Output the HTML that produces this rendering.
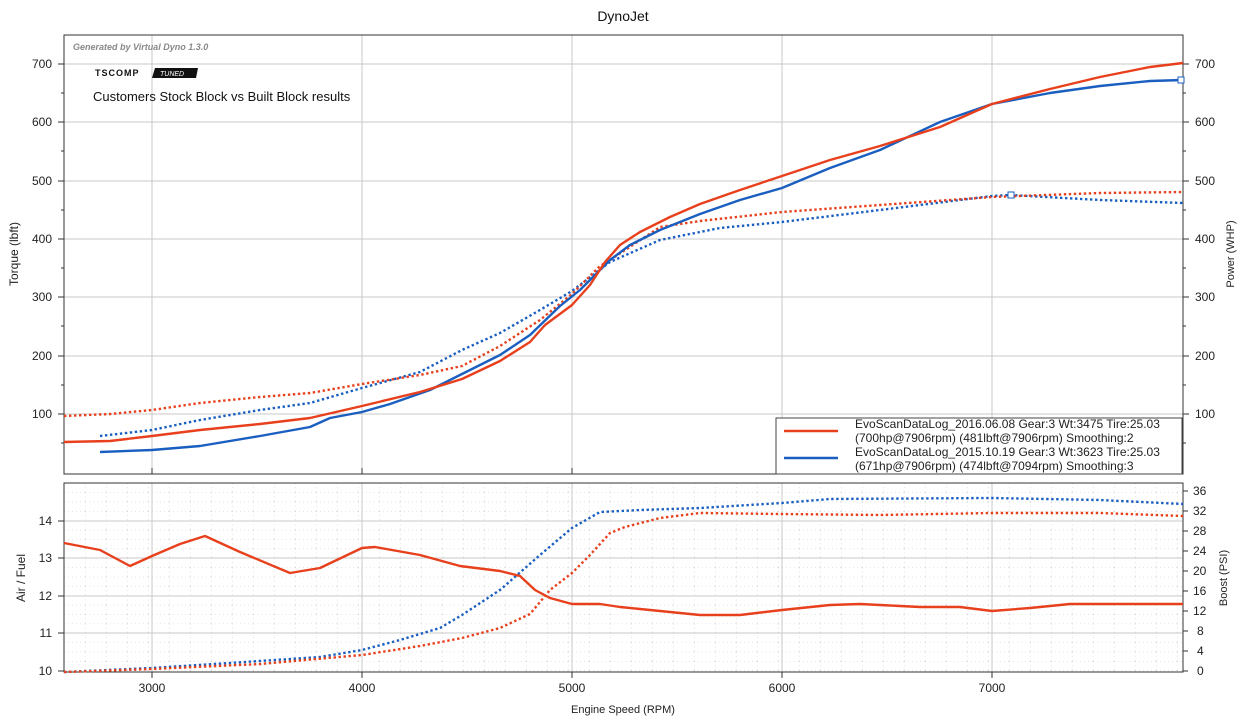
<!DOCTYPE html>
<html><head><meta charset="utf-8"><style>
html,body{margin:0;padding:0;background:#fff;}
svg{display:block;font-family:"Liberation Sans",Arial,sans-serif;}
</style></head><body>
<svg width="1247" height="724" viewBox="0 0 1247 724" xmlns="http://www.w3.org/2000/svg">
<defs>
<pattern id="minor" x="64" y="483" width="21" height="9.375" patternUnits="userSpaceOnUse">
<line x1="0" y1="0" x2="21" y2="0" stroke="#ccc" stroke-width="1" stroke-dasharray="1,3"/>
<line x1="0" y1="0" x2="0" y2="9.375" stroke="#ccc" stroke-width="1" stroke-dasharray="1,3"/>
</pattern>
</defs>
<text x="623" y="21" font-size="14" text-anchor="middle" fill="#111">DynoJet</text>
<g stroke="#c8c8c8" stroke-width="1">
<line x1="64" y1="64" x2="1183" y2="64"/><line x1="64" y1="122" x2="1183" y2="122"/>
<line x1="64" y1="181" x2="1183" y2="181"/><line x1="64" y1="239" x2="1183" y2="239"/>
<line x1="64" y1="297" x2="1183" y2="297"/><line x1="64" y1="356" x2="1183" y2="356"/>
<line x1="64" y1="414" x2="1183" y2="414"/>
<line x1="152" y1="35" x2="152" y2="474"/><line x1="362" y1="35" x2="362" y2="474"/>
<line x1="572" y1="35" x2="572" y2="474"/><line x1="782" y1="35" x2="782" y2="474"/>
<line x1="992" y1="35" x2="992" y2="474"/>
</g>
<rect x="64" y="35" width="1119" height="439" fill="none" stroke="#333" stroke-width="1"/>
<rect x="64" y="483" width="1119" height="189" fill="url(#minor)"/>
<g stroke="#c8c8c8" stroke-width="1">
<line x1="64" y1="521" x2="1183" y2="521"/><line x1="64" y1="558" x2="1183" y2="558"/>
<line x1="64" y1="596" x2="1183" y2="596"/><line x1="64" y1="633" x2="1183" y2="633"/>
<line x1="152" y1="483" x2="152" y2="672"/><line x1="362" y1="483" x2="362" y2="672"/>
<line x1="572" y1="483" x2="572" y2="672"/><line x1="782" y1="483" x2="782" y2="672"/>
<line x1="992" y1="483" x2="992" y2="672"/>
</g>
<rect x="64" y="483" width="1119" height="189" fill="none" stroke="#333" stroke-width="1"/>
<!-- tick marks -->
<g stroke="#333" stroke-width="1">
<path d="M58,64H64M58,122H64M58,181H64M58,239H64M58,297H64M58,356H64M58,414H64M61,93H64M61,151H64M61,210H64M61,268H64M61,326H64M61,385H64M61,443H64"/>
<path d="M1183,64H1189M1183,122H1189M1183,181H1189M1183,239H1189M1183,297H1189M1183,356H1189M1183,414H1189M1183,93H1186M1183,151H1186M1183,210H1186M1183,268H1186M1183,326H1186M1183,385H1186M1183,443H1186"/>
<path d="M58,521H64M58,558H64M58,596H64M58,633H64M58,671H64"/>
<path d="M1183,491H1188M1183,511H1188M1183,531H1188M1183,551H1188M1183,571H1188M1183,591H1188M1183,611H1188M1183,631H1188M1183,651H1188M1183,671H1188"/>
<path d="M152,672V678M362,672V678M572,672V678M782,672V678M992,672V678M152,474V468M362,474V468M572,474V468M782,474V468M992,474V468"/>
</g>
<g font-size="12" fill="#222" text-anchor="end">
<text x="52" y="68">700</text><text x="52" y="126">600</text><text x="52" y="185">500</text>
<text x="52" y="243">400</text><text x="52" y="301">300</text><text x="52" y="360">200</text>
<text x="52" y="418">100</text>
<text x="52" y="525">14</text><text x="52" y="562">13</text><text x="52" y="600">12</text>
<text x="52" y="637">11</text><text x="52" y="675">10</text>
</g>
<g font-size="12" fill="#222" text-anchor="start">
<text x="1195" y="68">700</text><text x="1195" y="126">600</text><text x="1195" y="185">500</text>
<text x="1195" y="243">400</text><text x="1195" y="301">300</text><text x="1195" y="360">200</text>
<text x="1195" y="418">100</text>
<text x="1193" y="495">36</text><text x="1193" y="515">32</text><text x="1193" y="535">28</text>
<text x="1193" y="555">24</text><text x="1193" y="575">20</text><text x="1193" y="595">16</text>
<text x="1193" y="615">12</text><text x="1197" y="635">8</text><text x="1197" y="655">4</text>
<text x="1197" y="675">0</text>
</g>
<g font-size="12" fill="#222" text-anchor="middle">
<text x="152" y="692">3000</text><text x="362" y="692">4000</text><text x="572" y="692">5000</text>
<text x="782" y="692">6000</text><text x="992" y="692">7000</text>
<text x="623" y="713" font-size="11">Engine Speed (RPM)</text>
</g>
<text transform="translate(18,254) rotate(-90)" font-size="12" text-anchor="middle" fill="#222">Torque (lbft)</text>
<text transform="translate(25,578) rotate(-90)" font-size="12" text-anchor="middle" fill="#222">Air / Fuel</text>
<text transform="translate(1234,254) rotate(-90)" font-size="11" text-anchor="middle" fill="#222">Power (WHP)</text>
<text transform="translate(1227,578) rotate(-90)" font-size="11" text-anchor="middle" fill="#222">Boost (PSI)</text>
<text x="73" y="50" font-size="9" font-style="italic" font-weight="bold" fill="#888">Generated by Virtual Dyno 1.3.0</text>
<text x="95" y="76" font-size="9" font-weight="bold" fill="#111" letter-spacing="1">TSCOMP</text>
<polygon points="155,68 198,68 196,78 152,78" fill="#111"/>
<text x="160" y="76" font-size="7" font-style="italic" fill="#fff">TUNED</text>
<text x="93" y="101" font-size="13" fill="#111">Customers Stock Block vs Built Block results</text>
<g fill="none" stroke-width="2.4" stroke-linejoin="round">
<polyline stroke="#1a5fc0" stroke-dasharray="2.4,2.6" points="100,436 152,430 200,420 260,410 310,403 362,388 420,372 462,350 500,333 540,310 572,291 610,262 660,240 720,228 782,222 880,210 992,196 1010,195 1100,200 1183,203"/>
<polyline stroke="#e8401c" stroke-dasharray="2.4,2.6" points="64,416 110,414 152,410 200,403 260,397 310,393 362,384 420,375 462,366 500,346 540,320 572,294 600,266 610,260 660,227 700,221 782,212 880,205 992,197 1100,193 1183,192"/>
<polyline stroke="#1a5fc0" points="100,452 152,450 200,446 260,436 310,427 330,418 362,412 390,404 430,390 462,374 500,355 530,335 560,306 580,290 600,270 610,260 630,245 660,230 700,214 740,200 782,188 830,168 880,150 940,122 992,104 1050,93 1100,86 1150,81 1183,80"/>
<polyline stroke="#e8401c" points="64,442 110,441 152,436 200,430 260,424 310,418 362,406 420,392 462,379 500,361 530,342 545,325 572,305 590,285 605,262 620,245 640,232 670,217 700,204 740,190 782,176 830,160 880,146 940,127 992,104 1050,89 1100,77 1150,67 1183,63"/>
</g>
<rect x="1008" y="192" width="6" height="6" fill="#fff" stroke="#1a5fc0" stroke-width="1"/>
<rect x="1178" y="77" width="6" height="6" fill="#fff" stroke="#1a5fc0" stroke-width="1"/>
<rect x="776" y="418" width="406" height="56" fill="#fff" stroke="#444" stroke-width="1"/>
<line x1="784" y1="431" x2="838" y2="431" stroke="#e8401c" stroke-width="2.4"/>
<line x1="784" y1="458" x2="838" y2="458" stroke="#1a5fc0" stroke-width="2.4"/>
<g font-size="12" fill="#222">
<text x="855" y="428">EvoScanDataLog_2016.06.08 Gear:3 Wt:3475 Tire:25.03</text>
<text x="855" y="442">(700hp@7906rpm) (481lbft@7906rpm) Smoothing:2</text>
<text x="855" y="456">EvoScanDataLog_2015.10.19 Gear:3 Wt:3623 Tire:25.03</text>
<text x="855" y="470">(671hp@7906rpm) (474lbft@7094rpm) Smoothing:3</text>
</g>
<g fill="none" stroke-width="2.4" stroke-linejoin="round">
<polyline stroke="#1a5fc0" stroke-dasharray="2.4,2.6" points="64,672 152,668 260,661 320,657 362,650 400,640 440,628 462,615 500,590 540,555 572,528 600,512 640,510 700,508 782,503 830,499 992,498 1100,500 1183,504"/>
<polyline stroke="#e8401c" stroke-dasharray="2.4,2.6" points="64,672 152,669 260,664 362,655 420,646 462,638 500,628 530,614 550,590 572,573 590,555 610,533 625,527 660,518 700,513 782,514 880,515 992,513 1100,513 1183,516"/>
<polyline stroke="#e8401c" points="64,543 100,550 130,566 152,556 180,544 205,536 240,552 290,573 320,568 362,548 375,547 420,555 460,566 500,571 520,576 535,590 550,598 572,604 600,604 620,607 660,611 700,615 740,615 782,610 830,605 860,604 900,606 920,607 960,607 992,611 1030,608 1070,604 1183,604"/>
</g>
</svg>
</body></html>
